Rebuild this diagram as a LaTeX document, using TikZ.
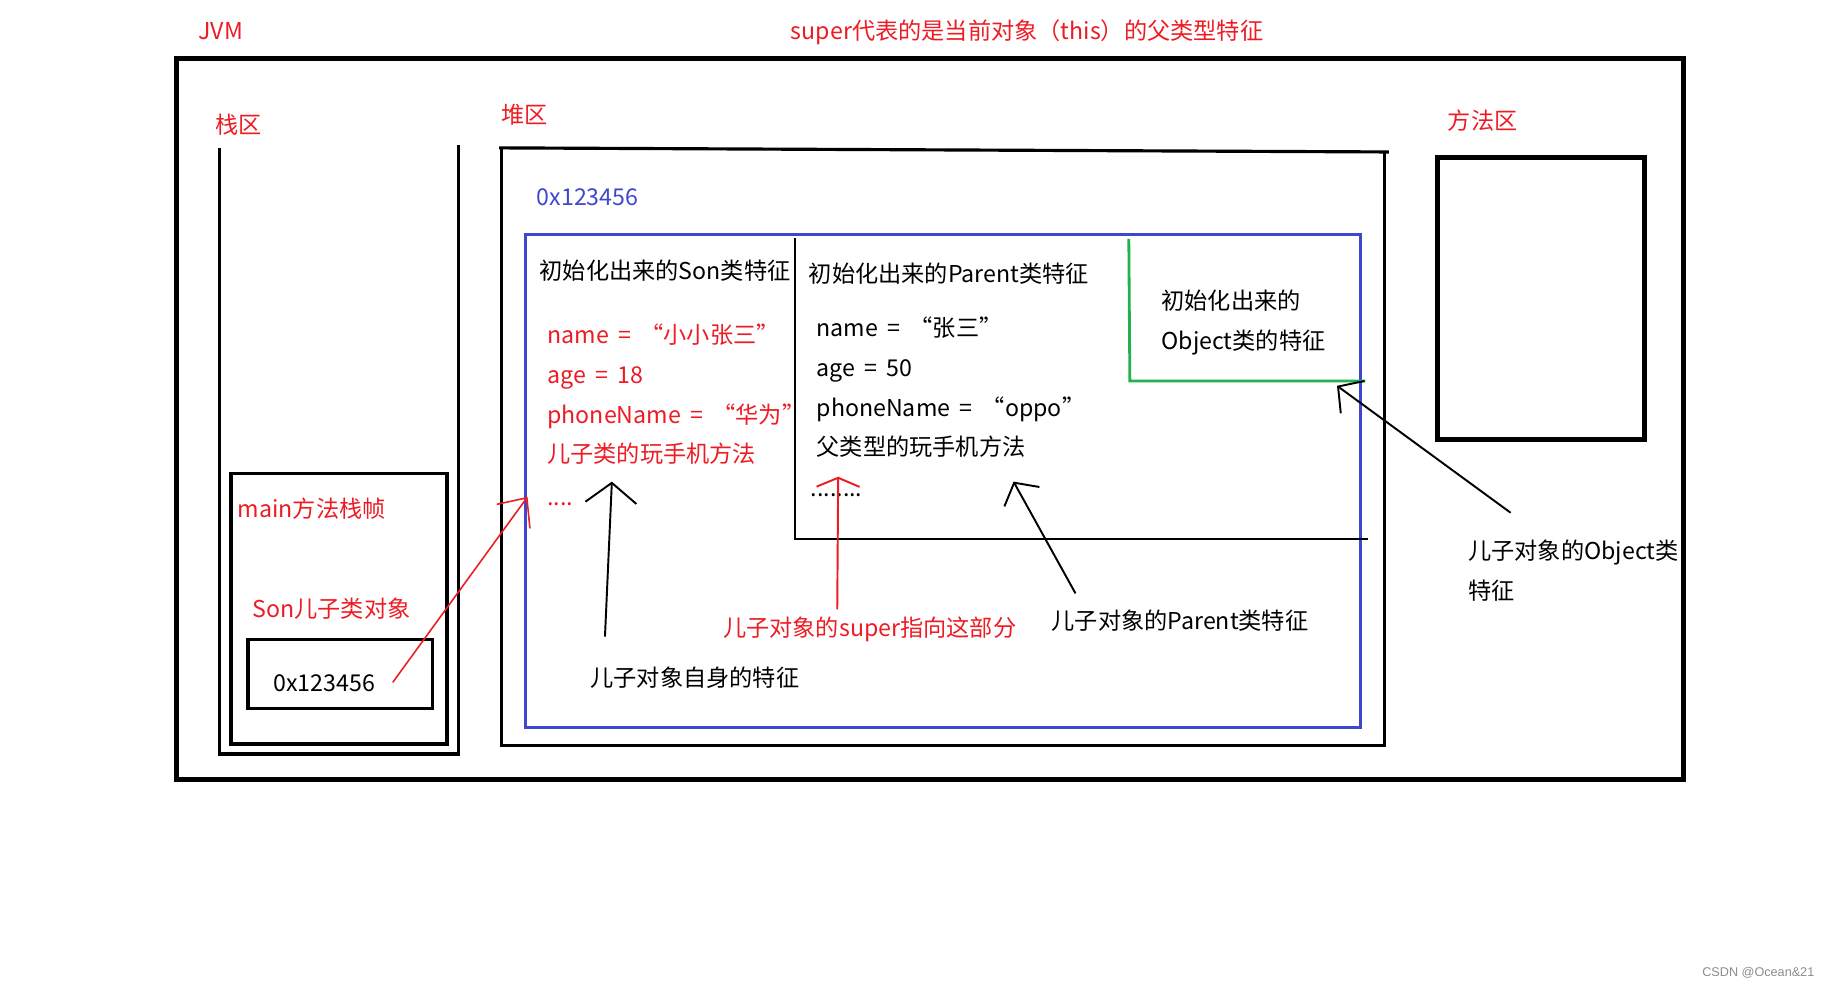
\documentclass[tikz,border=0pt]{standalone}
\usepackage{fontspec}
\setmainfont[WordSpace=1.8]{Noto Sans CJK SC}
\newfontfamily\markfont{Liberation Sans}
\usetikzlibrary{arrows.meta}

\definecolor{jvmred}{RGB}{237,28,36}
\definecolor{heapblue}{RGB}{63,72,204}
\definecolor{objgreen}{RGB}{34,177,76}

\begin{document}
\begin{tikzpicture}[x=0.1169mm, y=-0.1169mm,
    txt/.style={anchor=base west, inner sep=0pt, font=\fontsize{6.6}{8}\selectfont},
    redtxt/.style={txt, text=jvmred},
    hand/.style={line width=0.55pt, -{Straight Barb[length=1.9mm, width=4.2mm]}}]

  % page size
  \useasboundingbox (0,0) rectangle (1568,845);

  % JVM frame
  \draw[line width=1.5pt] (151,50) rectangle (1440,667);
  \node[redtxt] (jvm) at (169,34) {JVM};
  \node[redtxt] (title) at (676,34) {super代表的是当前对象（this）的父类型特征};

  % stack area with the main frame
  \node[redtxt] (stack) at (183.6,114) {栈区};
  \draw[line width=0.9pt] (187.5,127) -- (187.5,645) -- (392,645) -- (392,124);
  \draw[line width=1pt] (197.5,405) rectangle (382.5,636.5);
  \node[redtxt] (frame) at (202.8,443) {main方法栈帧};
  \node[redtxt] (sonvar) at (215.3,528) {Son儿子类对象};
  \draw[line width=1pt] (212,547) rectangle (370,606);
  \node[txt] (ref) at (233.4,591.5) {0x123456};

  % heap area
  \node[redtxt] (heap) at (428,105.5) {堆区};
  \draw[line width=0.9pt] (427,126.5) -- (1188,130);
  \draw[line width=0.9pt] (429,127) -- (429,638) -- (1184,638) -- (1184,130);
  \node[txt, text=heapblue] (addr) at (458.5,176) {0x123456};
  \draw[heapblue, line width=0.8pt] (449.5,200.5) rectangle (1164,622);

  % son part of the object
  \node[txt] (sonhead) at (461,239) {初始化出来的Son类特征};
  \foreach \t [count=\i] in {name = “小小张三”, age = 18, phoneName = “华为”, 儿子类的玩手机方法}
    \node[redtxt] (son\i) at (467.6,{294+34*(\i-1)}) {\t};
  \node[redtxt] (sondots) at (467.7,432) {....};

  % parent part of the object
  \draw[line width=0.8pt] (680,204) -- (680,461) -- (1170,461);
  \node[txt] (parhead) at (691.3,241.5) {初始化出来的Parent类特征};
  \foreach \t [count=\i] in {name = “张三”, age = 50, phoneName = “oppo”, 父类型的玩手机方法}
    \node[txt] (par\i) at (698,{288+34*(\i-1)}) {\t};
  \node[txt] (pardots) at (693,425) {........};

  % object part of the object
  \draw[objgreen, line width=0.8pt] (965.6,204.4) -- (966.5,326) -- (1168,326);
  \node[txt] (objhead1) at (993,265) {初始化出来的};
  \node[txt] (objhead2) at (993,299.3) {Object类的特征};

  % method area
  \node[redtxt] (method) at (1238,110.5) {方法区};
  \draw[line width=1.4pt] (1230,135) rectangle (1407,376);

  % captions
  \node[txt] (selfcap) at (504.5,587.3) {儿子对象自身的特征};
  \node[redtxt] (supercap) at (618,544.5) {儿子对象的super指向这部分};
  \node[txt] (parcap) at (899,538.8) {儿子对象的Parent类特征};
  \node[txt] (objcap1) at (1255.4,478.9) {儿子对象的Object类};
  \node[txt] (objcap2) at (1255.4,513) {特征};

  % arrow ends
  \coordinate (refout) at (336,583.7);
  \coordinate (refin) at (451.3,425);
  \coordinate (selfout) at (517.5,544.6);
  \coordinate (selfin) at (523.4,412);
  \coordinate (superout) at (716.2,521.2);
  \coordinate (superin) at (717,407.8);
  \coordinate (parout) at (920,507.6);
  \coordinate (parin) at (867,412);
  \coordinate (objout) at (1292.2,438.6);
  \coordinate (objin) at (1143.7,330);

  % arrows
  \draw[hand, jvmred, line width=0.45pt, -{Straight Barb[length=2.3mm, width=4.1mm]}] (refout) -- (refin);
  \draw[hand, -{Straight Barb[length=2mm, width=5.1mm]}] (selfout) -- (selfin);
  \draw[hand, jvmred, -{Straight Barb[length=0.9mm, width=4.3mm]}] (superout) -- (superin);
  \draw[hand, -{Straight Barb[length=1.6mm, width=4mm]}] (parout) -- (parin);
  \draw[hand, -{Straight Barb[length=1.8mm, width=4mm]}] (objout) -- (objin);

  % watermark
  \node[anchor=base west, inner sep=0pt, text=black!45, font=\markfont\fontsize{3.6}{4}\selectfont] (mark) at (1455.6,835.5) {CSDN @Ocean\&21};
\end{tikzpicture}
\end{document}
